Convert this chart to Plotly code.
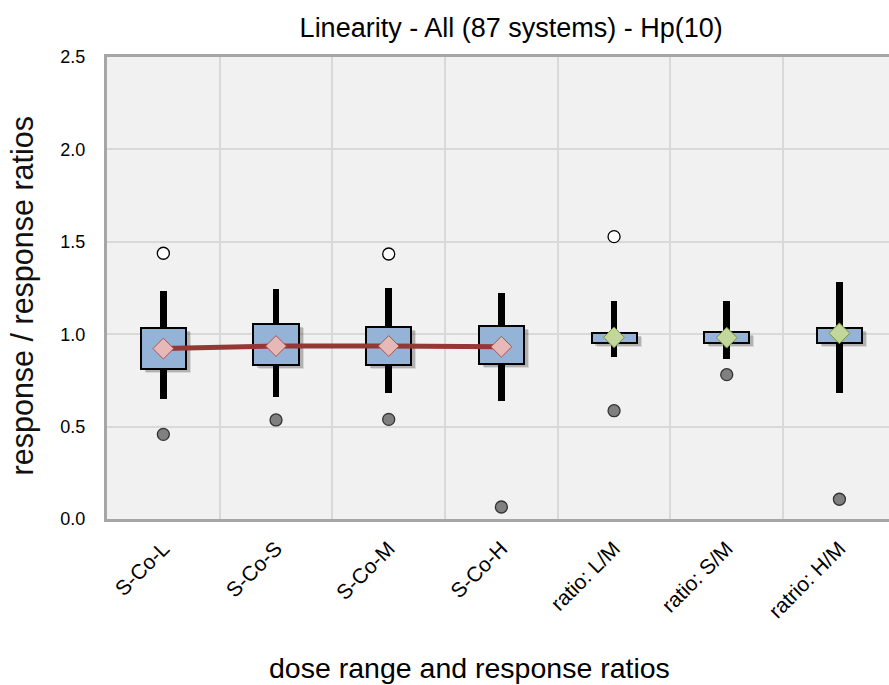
import plotly.graph_objects as go

categories = ["S-Co-L", "S-Co-S", "S-Co-M", "S-Co-H", "ratio: L/M", "ratio: S/M", "ratrio: H/M"]
q1 = [0.812, 0.833, 0.833, 0.839, 0.951, 0.951, 0.954]
q3 = [1.035, 1.053, 1.041, 1.044, 1.005, 1.010, 1.032]
whisker_low = [0.649, 0.662, 0.683, 0.640, 0.878, 0.864, 0.680]
whisker_high = [1.234, 1.243, 1.248, 1.225, 1.180, 1.180, 1.284]
means = [0.922, 0.936, 0.936, 0.932, 0.983, 0.981, 1.005]
max_outliers = [1.438, None, 1.434, None, 1.528, None, None]
min_outliers = [0.458, 0.536, 0.539, 0.065, 0.586, 0.781, 0.107]

n_dose = 4  # first four categories are dose responses, rest are ratios

FONT = "Liberation Sans, Arial, sans-serif"
box_w = 0.40
wh_w = 0.058

fig = go.Figure()

heights = [b - a for a, b in zip(q1, q3)]

# soft shadow under boxes
for dx, dy, alpha in [(0.045, 0.022, 0.10), (0.035, 0.016, 0.18)]:
    fig.add_trace(go.Bar(
        x=categories, y=heights, base=[a - dy for a in q1],
        width=box_w, offset=-box_w / 2 + dx,
        marker=dict(color=f"rgba(0,0,0,{alpha})", line=dict(width=0)),
        hoverinfo="skip", showlegend=False))

# whiskers
fig.add_trace(go.Bar(
    x=categories, y=[h - l for l, h in zip(whisker_low, whisker_high)], base=whisker_low,
    width=wh_w, marker=dict(color="black", line=dict(width=0)),
    hoverinfo="skip", showlegend=False))

# boxes
fig.add_trace(go.Bar(
    x=categories, y=heights, base=q1, width=box_w,
    marker=dict(color="#95B3D7", line=dict(color="black", width=2)),
    showlegend=False))

# mean line for dose ranges
fig.add_trace(go.Scatter(
    x=categories[:n_dose], y=means[:n_dose], mode="lines",
    line=dict(color="#953735", width=5), showlegend=False))

# mean diamonds
fig.add_trace(go.Scatter(
    x=categories[:n_dose], y=means[:n_dose], mode="markers",
    marker=dict(symbol="diamond", size=16, color="#E6B9B8",
                line=dict(color="#B0504D", width=1)), showlegend=False))
fig.add_trace(go.Scatter(
    x=categories[n_dose:], y=means[n_dose:], mode="markers",
    marker=dict(symbol="diamond", size=16, color="#C3D69B",
                line=dict(color="#77933C", width=1)), showlegend=False))

# outliers
fig.add_trace(go.Scatter(
    x=categories, y=max_outliers, mode="markers",
    marker=dict(symbol="circle", size=12, color="white",
                line=dict(color="black", width=1.3)), showlegend=False))
fig.add_trace(go.Scatter(
    x=categories, y=min_outliers, mode="markers",
    marker=dict(symbol="circle", size=12, color="#808080",
                line=dict(color="#333333", width=1.3)), showlegend=False))

fig.update_layout(
    width=889, height=685,
    margin=dict(l=107, r=0, t=57, b=166),
    paper_bgcolor="white", plot_bgcolor="#F1F1F1",
    barmode="overlay", bargap=0,
    font=dict(family=FONT, color="#111111"),
    title=dict(text="Linearity - All (87 systems) - Hp(10)", x=0.575, xanchor="center",
               y=1 - 28 / 685, yanchor="middle", font=dict(size=27, color="black")),
    xaxis=dict(type="category", range=[-0.5, 6.44], tickson="boundaries",
               showgrid=True, gridcolor="#D9D9D9", gridwidth=1.5,
               showline=True, linecolor="#A6A6A6", linewidth=3, mirror=True,
               ticks="", tickangle=-45, ticklabelstandoff=6,
               tickfont=dict(size=21, color="black")),
    yaxis=dict(range=[0, 2.5], dtick=0.5, tickformat=".1f",
               showgrid=True, gridcolor="#D9D9D9", gridwidth=1.5,
               showline=True, linecolor="#A6A6A6", linewidth=3,
               zeroline=False, ticks="", ticklabelstandoff=15,
               tickfont=dict(size=18, color="black")),
    annotations=[
        dict(text="dose range and response ratios", xref="paper", yref="paper",
             x=0.463, y=-0.3225, xanchor="center", yanchor="middle", showarrow=False,
             font=dict(size=28.5, color="black")),
        dict(text="response / response ratios", xref="paper", yref="paper",
             x=-0.108, y=0.483, xanchor="center", yanchor="middle", showarrow=False,
             textangle=-90, font=dict(size=30.5, color="#111111")),
    ],
)

fig.write_html("out.html", config={"displayModeBar": False},
               post_script="document.body.style.margin='0';")
